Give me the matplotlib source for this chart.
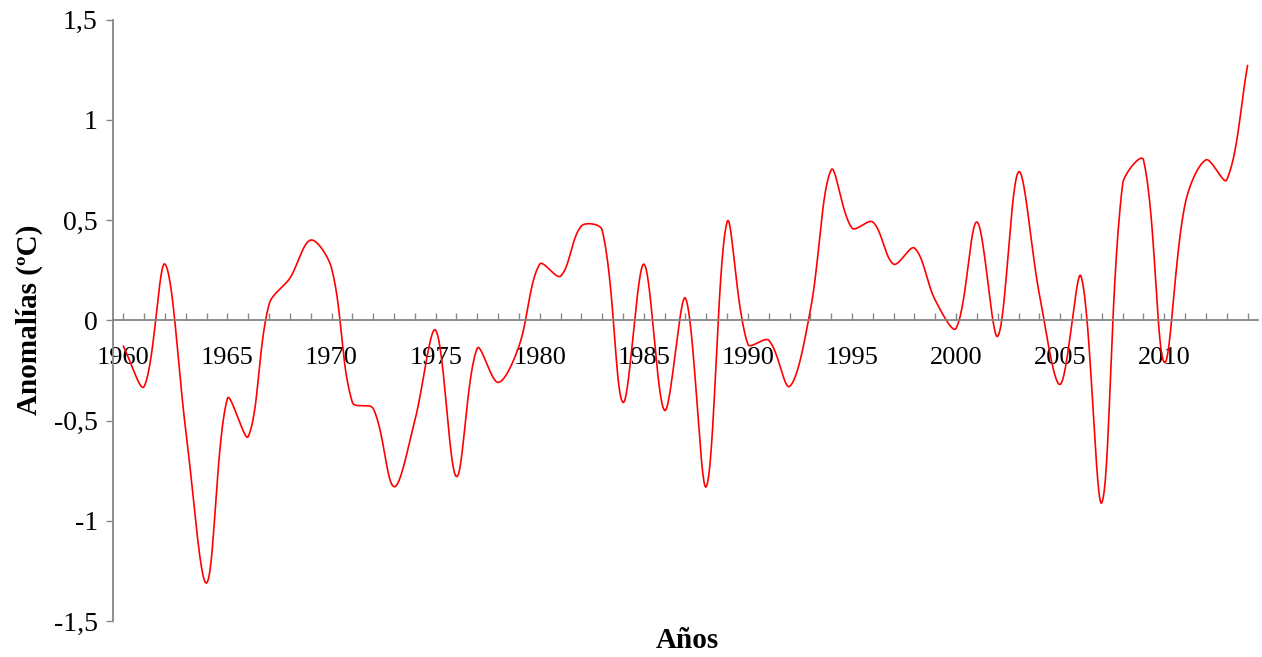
import numpy as np
import matplotlib
matplotlib.use("Agg")
import matplotlib.pyplot as plt

# Annual temperature anomalies (ºC), 1960-2014
years = list(range(1960, 2015))
anomalies = [
    -0.13, -0.33, 0.28, -0.55, -1.31, -0.39, -0.58, 0.08, 0.21, 0.40,
    0.26, -0.41, -0.44, -0.83, -0.50, -0.05, -0.78, -0.14, -0.31, -0.13,
    0.28, 0.22, 0.47, 0.45, -0.41, 0.28, -0.45, 0.11, -0.83, 0.49,
    -0.12, -0.10, -0.33, 0.05, 0.75, 0.46, 0.49, 0.28, 0.36, 0.10,
    -0.04, 0.49, -0.08, 0.74, 0.13, -0.32, 0.22, -0.91, 0.68, 0.80,
    -0.21, 0.58, 0.80, 0.70, 1.27,
]
y_ticks = [-1.5, -1.0, -0.5, 0.0, 0.5, 1.0, 1.5]
y_tick_labels = ["-1,5", "-1", "-0,5", "0", "0,5", "1", "1,5"]


def smooth_path(pts, samples=30):
    """Smoothed line through screen points: cubic Bezier segments whose
    control handles are weighted by the neighbouring segment lengths."""
    pts = np.asarray(pts, dtype=float)
    n = len(pts)
    ext = np.vstack([pts[0], pts, pts[-1]])
    t = np.linspace(0, 1, samples, endpoint=False)[:, None]
    out = []
    for i in range(n - 1):
        p0, p1, p2, p3 = ext[i], ext[i + 1], ext[i + 2], ext[i + 3]
        d01 = np.hypot(*(p1 - p0))
        d12 = np.hypot(*(p2 - p1))
        d23 = np.hypot(*(p3 - p2))
        c1 = p1 + (p2 - p0) * (d12 / (d01 + d12) if d01 + d12 else 0) / 3
        c2 = p2 - (p3 - p1) * (d12 / (d12 + d23) if d12 + d23 else 0) / 3
        seg = ((1 - t) ** 3 * p1 + 3 * (1 - t) ** 2 * t * c1
               + 3 * (1 - t) * t ** 2 * c2 + t ** 3 * p2)
        out.append(seg)
    out.append(pts[-1][None, :])
    return np.vstack(out)


plt.rcParams["font.family"] = ["Liberation Serif", "DejaVu Serif"]
axis_color = "#868686"

fig = plt.figure(figsize=(12.62, 6.57), dpi=100)
ax = fig.add_axes([0.0895, 0.0548, 0.9073, 0.9155])

ax.set_xlim(-0.5, len(years) - 0.5)
ax.set_ylim(-1.5, 1.5)

idx = np.arange(len(years))
screen = ax.transData.transform(np.column_stack([idx, anomalies]))
curve = ax.transData.inverted().transform(smooth_path(screen))
ax.plot(curve[:, 0], curve[:, 1], color="#FF0000", linewidth=1.2,
        solid_joinstyle="round")

# category axis drawn through zero
for side in ("top", "right"):
    ax.spines[side].set_visible(False)
ax.spines["bottom"].set_position(("data", 0))
ax.spines["bottom"].set_bounds(-0.5, len(years) - 0.5)
ax.spines["bottom"].set_color(axis_color)
ax.spines["left"].set_color(axis_color)
ax.spines["bottom"].set_linewidth(1.3)
ax.spines["left"].set_linewidth(1.3)

ax.set_xticks(idx)
ax.set_xticklabels([str(yr) if yr % 5 == 0 else "" for yr in years])
ax.tick_params(axis="x", direction="in", length=5, width=1, color=axis_color,
               pad=19, labelsize=19)

ax.set_yticks(y_ticks)
ax.set_yticklabels(y_tick_labels)
ax.tick_params(axis="y", direction="out", length=5, width=1, color=axis_color,
               pad=6, labelsize=20)

ax.set_ylabel("Anomalías (ºC)", fontsize=21, fontweight="bold", labelpad=8)
fig.text(0.5445, 0.025, "Años", fontsize=21, fontweight="bold",
         ha="center", va="center")

fig.savefig("out.png", dpi=100)
